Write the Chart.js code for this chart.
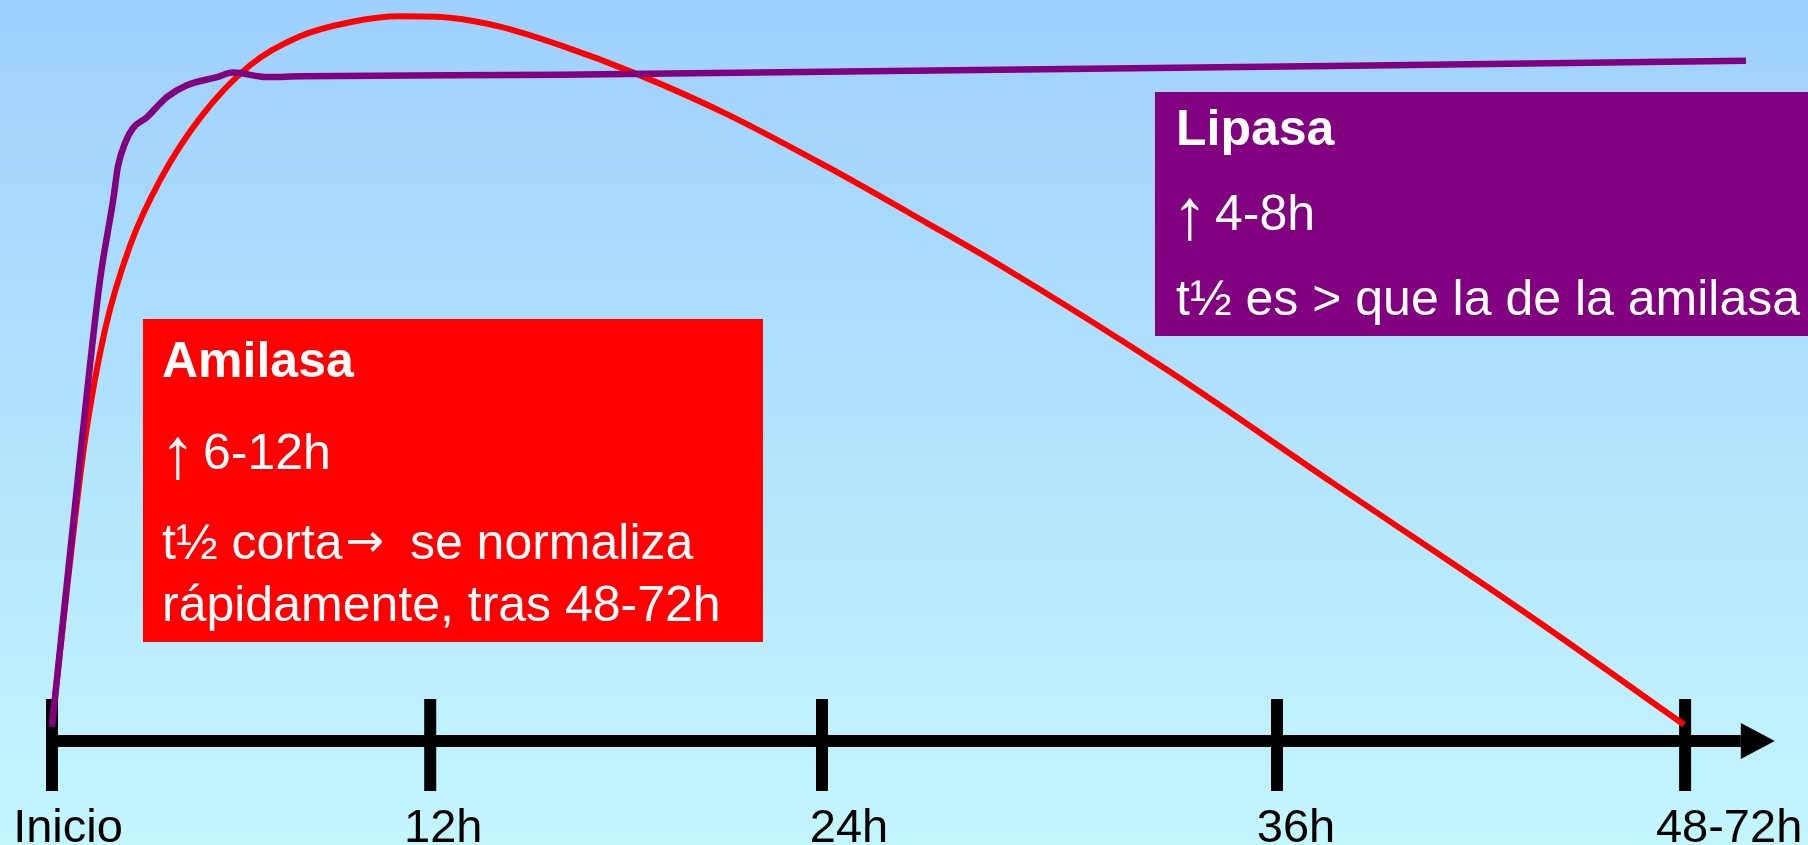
<!DOCTYPE html>
<html>
<head>
<meta charset="utf-8">
<script src="https://cdn.jsdelivr.net/npm/chart.js@4.4.1/dist/chart.umd.min.js"></script>
<style>
  html, body { margin: 0; padding: 0; overflow: hidden; background: #c4f6fe; }
  #wrap { width: 1808px; height: 845px; position: relative; }
  canvas { display: block; }
</style>
</head>
<body>
<div id="wrap"><canvas id="c" width="1808" height="845"></canvas></div>
<script>
// ---- Data (schematic time units on x, relative level on y) ----
const tickPositions = [0, 11.13, 22.66, 36.05, 48.06];
const tickLabels = ['Inicio', '12h', '24h', '36h', '48-72h'];

const amylaseX = [0, 0.47, 0.97, 1.56, 2.30, 3.18, 4.36, 5.83, 7.30, 8.77, 10.24, 11.71, 13.18, 14.95, 17.22, 19.86, 22.81, 25.75, 27.90, 32.81, 37.70, 43.58, 48.03];
const amylaseY = [2.2, 21.7, 40.6, 55.5, 66.9, 75.7, 84.1, 91.2, 95.1, 97.0, 97.8, 97.6, 96.4, 93.9, 90.0, 84.6, 77.5, 69.9, 64.2, 50.1, 34.8, 16.6, 2.2];

const lipaseX = [0, 0.88, 1.41, 1.80, 1.94, 2.15, 2.38, 2.80, 3.09, 3.38, 3.97, 4.86, 5.33, 6.33, 7.30, 14.95, 49.85];
const lipaseY = [1.9, 40.6, 62.1, 73.0, 77.5, 80.7, 82.7, 84.2, 85.6, 86.9, 88.5, 89.6, 90.2, 89.6, 89.7, 89.9, 91.8];

const amylaseTitle = 'Amilasa';
const amylaseRise = '6-12h';
const amylaseNote1 = ['t½ corta', '→', ' se normaliza'];
const amylaseNote2 = 'rápidamente, tras 48-72h';
const lipaseTitle = 'Lipasa';
const lipaseRise = '4-8h';
const lipaseNote = 't½ es > que la de la amilasa';

// ---- Styles / layout ----
const FONT = "'Liberation Sans', Arial, Helvetica, sans-serif";
const labelOffsets = [16, 13, 27, 19, 44];
const axisEndValue = 49.7;
const arrowTipValue = 50.7;

const bgPlugin = {
  id: 'bg',
  beforeDraw(chart) {
    const { ctx, width, height } = chart;
    const g = ctx.createLinearGradient(0, 0, 0, height);
    g.addColorStop(0, '#9ed0fe');
    g.addColorStop(1, '#c4f6fe');
    ctx.save();
    ctx.fillStyle = g;
    ctx.fillRect(0, 0, width, height);
    ctx.restore();
  }
};

const axisPlugin = {
  id: 'timeAxis',
  beforeDatasetsDraw(chart) {
    const { ctx, scales: { x, y } } = chart;
    const y0 = y.getPixelForValue(0);
    const xStart = x.getPixelForValue(tickPositions[0]);
    const xEnd = x.getPixelForValue(axisEndValue);
    const xTip = x.getPixelForValue(arrowTipValue);
    ctx.save();
    ctx.fillStyle = '#000';
    ctx.fillRect(xStart - 6, y0 - 6, xEnd - xStart + 6, 12);
    ctx.beginPath();
    ctx.moveTo(xEnd, y0 - 18);
    ctx.lineTo(xTip, y0);
    ctx.lineTo(xEnd, y0 + 18);
    ctx.closePath();
    ctx.fill();
    tickPositions.forEach(v => {
      const px = x.getPixelForValue(v);
      ctx.fillRect(px - 6, y0 - 42, 12, 92);
    });
    ctx.restore();
  },
  afterDraw(chart) {
    const { ctx, scales: { x } } = chart;
    ctx.save();
    ctx.fillStyle = '#000';
    ctx.font = '47px ' + FONT;
    ctx.textAlign = 'center';
    ctx.textBaseline = 'alphabetic';
    tickPositions.forEach((v, i) => {
      ctx.fillText(tickLabels[i], x.getPixelForValue(v) + labelOffsets[i], 842);
    });
    ctx.restore();
  }
};

function drawUpArrowLine(ctx, x, base, rest, restX) {
  ctx.font = '72px ' + FONT;
  ctx.fillText('↑', x - 4, base + 9);
  ctx.font = '50px ' + FONT;
  ctx.fillText(rest, restX, base);
}

const boxPlugin = {
  id: 'boxes',
  afterDatasetsDraw(chart) {
    const { ctx } = chart;
    ctx.save();
    ctx.fillStyle = '#ff0000';
    ctx.fillRect(143, 319, 620, 323);
    ctx.fillStyle = '#800080';
    ctx.fillRect(1155, 92, 653, 244);

    ctx.fillStyle = '#ffffff';
    ctx.textAlign = 'left';
    ctx.textBaseline = 'alphabetic';

    // Amilasa
    ctx.font = 'bold 50px ' + FONT;
    ctx.fillText(amylaseTitle, 162, 377);
    drawUpArrowLine(ctx, 164, 469, amylaseRise, 203);
    ctx.font = '50px ' + FONT;
    ctx.fillText(amylaseNote1[0], 162, 559);
    const px = 162 + ctx.measureText(amylaseNote1[0]).width + 3;
    ctx.font = "46px 'DejaVu Sans', sans-serif";
    ctx.fillText(amylaseNote1[1], px, 556);
    ctx.font = '50px ' + FONT;
    ctx.fillText(amylaseNote1[2], 396, 559);
    ctx.fillText(amylaseNote2, 162, 621);

    // Lipasa
    ctx.font = 'bold 50px ' + FONT;
    ctx.fillText(lipaseTitle, 1176, 145);
    drawUpArrowLine(ctx, 1176, 230, lipaseRise, 1215);
    ctx.font = '50px ' + FONT;
    ctx.fillText(lipaseNote, 1176, 315);
    ctx.restore();
  }
};

const toPts = (xs, ys) => xs.map((v, i) => ({ x: v, y: ys[i] }));

new Chart(document.getElementById('c').getContext('2d'), {
  type: 'line',
  data: {
    datasets: [
      {
        label: 'Lipasa',
        data: toPts(lipaseX, lipaseY),
        borderColor: '#800080',
        borderWidth: 6.5,
        pointRadius: 0,
        cubicInterpolationMode: 'monotone',
        fill: false,
        order: 0
      },
      {
        label: 'Amilasa',
        data: toPts(amylaseX, amylaseY),
        borderColor: '#ff0000',
        borderWidth: 6,
        pointRadius: 0,
        cubicInterpolationMode: 'monotone',
        fill: false,
        order: 1
      }
    ]
  },
  options: {
    responsive: false,
    animation: false,
    devicePixelRatio: 1,
    clip: false,
    layout: { padding: { left: 52, right: 23, top: 0, bottom: 104 } },
    scales: {
      x: { type: 'linear', min: 0, max: 51, display: false },
      y: { type: 'linear', min: 0, max: 100, display: false }
    },
    plugins: { legend: { display: false }, tooltip: { enabled: false } }
  },
  plugins: [bgPlugin, axisPlugin, boxPlugin]
});
</script>
</body>
</html>
